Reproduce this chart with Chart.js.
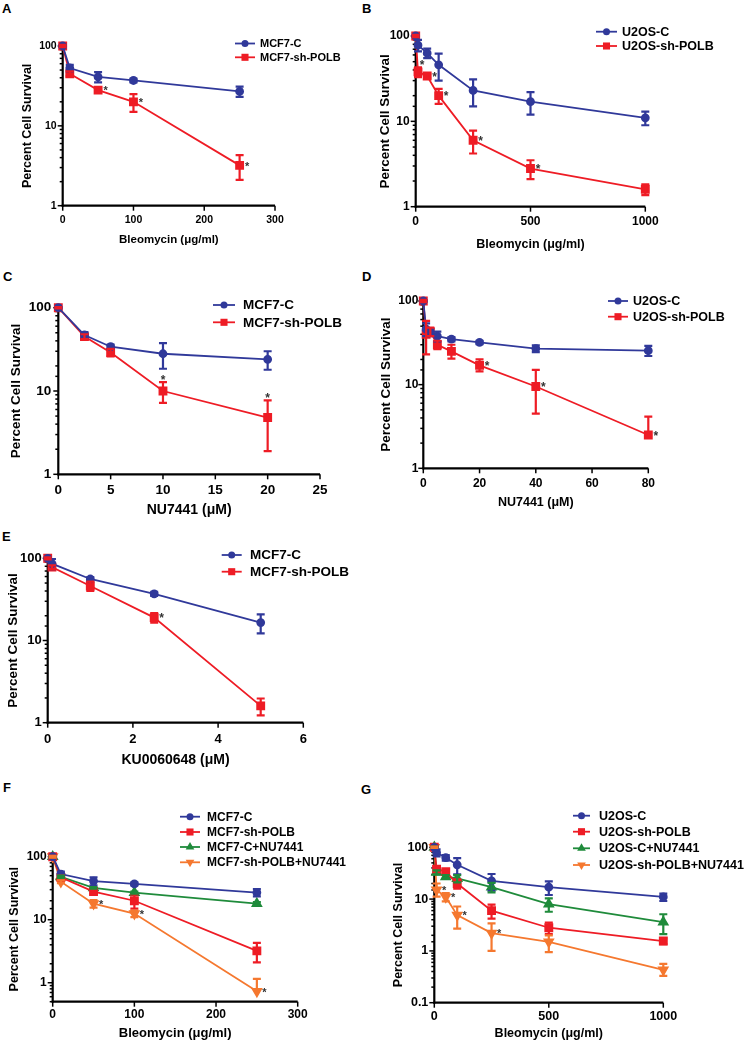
<!DOCTYPE html>
<html>
<head>
<meta charset="utf-8">
<script src="https://cdn.jsdelivr.net/npm/chart.js@4.4.0/dist/chart.umd.min.js"></script>
<style>
  body { margin: 0; background: #fff; width: 745px; height: 1042px; position: relative; overflow: hidden; }
  canvas { position: absolute; }
  .lbl { position: absolute; font: bold 13px "Liberation Sans", Arial, sans-serif; line-height: 13px; color: #000; }
</style>
</head>
<body>
<div class="lbl" style="left:2px;top:1.6px">A</div>
<div class="lbl" style="left:362px;top:1.6px">B</div>
<div class="lbl" style="left:3px;top:270px">C</div>
<div class="lbl" style="left:362px;top:270px">D</div>
<div class="lbl" style="left:2px;top:530px">E</div>
<div class="lbl" style="left:3px;top:781px">F</div>
<div class="lbl" style="left:361px;top:783px">G</div>
<script>
const BLUE = '#30399a', RED = '#ee1c25', GREEN = '#1f8b3b', ORANGE = '#f5782f';
const FONT = '"Liberation Sans", Arial, sans-serif';

// A: MCF7, bleomycin
const aDose = [0, 10, 50, 100, 250];
const aCtrl = [100, 53, 41, 37, 27];
const aCtrlSem = [3, 5, 6, 2, 4];
const aPolb = [100, 45, 28, 20, 3.2];
const aPolbSem = [3, 3, 1.5, 5, 1.1];
const aPolbStars = [0, 0, 'r', 'r', 'r'];

// B: U2OS, bleomycin
const bDose = [0, 10, 50, 100, 250, 500, 1000];
const bCtrl = [100, 78, 63, 46, 23, 17, 11];
const bCtrlSem = [3, 12, 8, 16, 8, 5, 2];
const bPolb = [100, 38, 34, 20, 6, 2.8, 1.6];
const bPolbSem = [3, 5, 2, 4, 1.8, 0.7, 0.23];
const bPolbStars = [0, 'u', 'r', 'r', 'r', 'r', 0];

// C: MCF7, NU7441
const cDose = [0, 2.5, 5, 10, 20];
const cCtrl = [100, 47, 34, 28, 24];
const cCtrlSem = [2, 4, 2, 9.5, 6];
const cPolb = [100, 45, 29, 10, 4.8];
const cPolbSem = [2, 3, 3, 2.8, 2.9];
const cPolbStars = [0, 0, 0, 'a', 'a'];

// D: U2OS, NU7441
const dDose = [0, 1, 2.5, 5, 10, 20, 40, 80];
const dCtrl = [100, 46, 42, 38, 35, 32, 27, 25.5];
const dCtrlSem = [2, 8, 4, 5, 2, 1.5, 2.5, 3.5];
const dPolb = [100, 40, 43, 30, 25, 17, 9.5, 2.5];
const dPolbUp = [3, 18, 5, 3.5, 5, 3, 5.5, 1.65];
const dPolbDown = [3, 17, 5, 3.5, 4.5, 2.6, 5, 0];
const dPolbStars = [0, 0, 0, 0, 0, 'r', 'r', 'r'];

// E: MCF7, KU0060648
const eDose = [0, 0.1, 1, 2.5, 5];
const eCtrl = [100, 86, 56, 37, 16.5];
const eCtrlSem = [3, 12, 3, 2, 4.3];
const ePolb = [100, 78, 46, 19, 1.6];
const ePolbSem = [3, 4, 6, 2.5, 0.37];
const ePolbStars = [0, 0, 0, 'r', 0];

// F: MCF7, bleomycin +/- NU7441
const fDose = [0, 10, 50, 100, 250];
const fCtrl = [100, 53, 41, 37, 27];
const fCtrlSem = [3, 5, 6, 2, 3.5];
const fPolb = [100, 47, 28, 20, 3.2];
const fPolbSem = [3, 3, 2, 5, 1.1];
const fCtrlNu = [100, 48, 32, 27, 18];
const fCtrlNuSem = [2, 2, 1, 1, 1];
const fPolbNu = [100, 40, 18, 12.5, 0.73];
const fPolbNuUp = [3, 2, 2.5, 1.5, 0.42];
const fPolbNuDown = [3, 2, 2.5, 1.5, 0];
const fPolbNuStars = [0, 0, 'r', 'r', 'r'];

// G: U2OS, bleomycin +/- NU7441
const gDose = [0, 10, 50, 100, 250, 500, 1000];
const gCtrl = [100, 79, 63, 46, 22.5, 17, 11];
const gCtrlSem = [3, 12, 8, 16, 8, 5, 1.8];
const gPolb = [100, 38, 34, 20, 6, 2.8, 1.55];
const gPolbSem = [3, 5, 2, 4, 1.8, 0.7, 0.2];
const gCtrlNu = [100, 33, 27, 25, 17, 8, 3.6];
const gCtrlNuSem = [3, 3, 2, 4, 3.5, 2.3, 1.5];
const gPolbNu = [100, 15, 11, 4.9, 2.2, 1.5, 0.43];
const gPolbNuUp = [3, 5, 2, 2.3, 1.2, 0.5, 0.13];
const gPolbNuDown = [3, 3.8, 2, 2.2, 1.2, 0.55, 0.1];
const gPolbNuStars = [0, 'r', 'r', 'r', 'r', 0, 0];

const CIRCLE = { color: BLUE, pointStyle: 'circle', radius: 3.5, rotation: 0 };
const SQUARE = { color: RED, pointStyle: 'rect', radius: 5, rotation: 0 };
const TRI_UP = { color: GREEN, pointStyle: 'triangle', radius: 5, rotation: 0 };
const TRI_DOWN = { color: ORANGE, pointStyle: 'triangle', radius: 5, rotation: 180 };

function series(label, dose, vals, up, down, st, stars) {
    return {
        label: label,
        data: dose.map((x, i) => ({ x: x, y: vals[i] })),
        borderColor: st.color,
        backgroundColor: st.color,
        borderWidth: 1.8,
        pointStyle: st.pointStyle,
        pointRadius: st.radius,
        pointHoverRadius: st.radius,
        pointRotation: st.rotation,
        tension: 0,
        clip: false,
        errUp: up,
        errDown: down || up,
        stars: stars || null,
        st: st
    };
}

function isDecade(v) {
    const l = Math.log10(v);
    return Math.abs(l - Math.round(l)) < 1e-6;
}

function drawMarker(ctx, st, x, y) {
    ctx.fillStyle = st.color;
    ctx.beginPath();
    if (st.pointStyle === 'circle') {
        ctx.arc(x, y, st.radius, 0, Math.PI * 2);
    } else if (st.pointStyle === 'rect') {
        const s = st.radius * Math.SQRT1_2;
        ctx.rect(x - s, y - s, 2 * s, 2 * s);
    } else {
        const r = st.radius, d = st.rotation ? -1 : 1;
        ctx.moveTo(x, y - d * r);
        ctx.lineTo(x + r * 0.866, y + d * r * 0.5);
        ctx.lineTo(x - r * 0.866, y + d * r * 0.5);
        ctx.closePath();
    }
    ctx.fill();
}

function decorFor(cfg) {
    const box = cfg.box;
    return {
        id: 'decor',
        beforeDatasetsDraw(chart) {
            const { ctx, chartArea: a } = chart;
            const x = chart.scales.x, y = chart.scales.y;
            const line = (x1, y1, x2, y2) => { ctx.beginPath(); ctx.moveTo(x1, y1); ctx.lineTo(x2, y2); ctx.stroke(); };
            ctx.save();
            ctx.strokeStyle = '#000';
            ctx.lineWidth = 1.5;
            x.ticks.forEach(t => {
                const px = x.getPixelForValue(t.value);
                line(px, a.bottom, px, a.bottom + 5);
            });
            y.ticks.forEach(t => {
                const py = y.getPixelForValue(t.value);
                const len = isDecade(t.value) ? 5 : 3;
                line(a.left - len, py, a.left, py);
            });
            ctx.lineWidth = 2.2;
            line(a.left, a.top - 1, a.left, a.bottom + 1);
            line(a.left - 1, a.bottom, a.right, a.bottom);
            ctx.restore();
        },
        afterDatasetsDraw(chart) {
            const { ctx } = chart;
            const y = chart.scales.y;
            ctx.save();
            // error bars and asterisks
            chart.data.datasets.forEach((ds, i) => {
                const meta = chart.getDatasetMeta(i);
                ctx.strokeStyle = ds.borderColor;
                ctx.lineWidth = 2.2;
                meta.data.forEach((pt, j) => {
                    const v = ds.data[j].y;
                    const hi = y.getPixelForValue(v + ds.errUp[j]);
                    const dn = ds.errDown[j];
                    const lo = dn > 0 && v - dn > 0 ? y.getPixelForValue(v - dn) : pt.y;
                    ctx.beginPath();
                    ctx.moveTo(pt.x, hi); ctx.lineTo(pt.x, lo);
                    ctx.moveTo(pt.x - 4, hi); ctx.lineTo(pt.x + 4, hi);
                    if (lo !== pt.y) { ctx.moveTo(pt.x - 4, lo); ctx.lineTo(pt.x + 4, lo); }
                    ctx.stroke();
                    const s = ds.stars && ds.stars[j];
                    if (s) {
                        const fs = cfg.starSize;
                        let cx = pt.x + 7.5, cy = pt.y - 2;
                        if (s === 'u') { cx = pt.x + 4; cy = pt.y - 10; }
                        if (s === 'a') { cx = pt.x; cy = hi - 5; }
                        ctx.fillStyle = '#333';
                        ctx.font = 'bold ' + fs + 'px ' + FONT;
                        ctx.textAlign = 'center';
                        ctx.textBaseline = 'alphabetic';
                        ctx.fillText('*', cx, cy + 0.57 * fs);
                    }
                });
            });
            // legend
            const lg = cfg.legend;
            ctx.font = 'bold ' + cfg.fonts.legend + 'px ' + FONT;
            ctx.textAlign = 'left';
            ctx.textBaseline = 'middle';
            chart.data.datasets.forEach((ds, i) => {
                const ly = lg.ys[i] - box.t;
                const x1 = lg.x1 - box.l, x2 = lg.x2 - box.l;
                ctx.strokeStyle = ds.borderColor;
                ctx.lineWidth = 1.8;
                ctx.beginPath(); ctx.moveTo(x1, ly); ctx.lineTo(x2, ly); ctx.stroke();
                drawMarker(ctx, ds.st, (x1 + x2) / 2, ly);
                ctx.fillStyle = '#000';
                ctx.fillText(ds.label, lg.tx - box.l, ly + 0.5);
            });
            ctx.restore();
        }
    };
}

function makePanel(cfg) {
    const box = cfg.box, plot = cfg.plot, f = cfg.fonts;
    const canvas = document.createElement('canvas');
    canvas.width = box.w;
    canvas.height = box.h;
    canvas.style.left = box.l + 'px';
    canvas.style.top = box.t + 'px';
    document.body.appendChild(canvas);

    const yW = plot.x0 - box.l;
    const xH = box.t + box.h - plot.y1;
    const yTitlePad = cfg.yTitleX - box.l - f.yTitle * 1.2 / 2;
    const xTitlePad = box.t + box.h - cfg.xTitleY - f.xTitle * 1.2 / 2;

    new Chart(canvas.getContext('2d'), {
        type: 'line',
        data: { datasets: cfg.datasets },
        options: {
            responsive: false,
            animation: false,
            devicePixelRatio: 1,
            events: [],
            layout: { padding: { left: 0, top: plot.y0 - box.t, right: box.l + box.w - plot.x1, bottom: 0 } },
            plugins: { legend: { display: false }, tooltip: { enabled: false } },
            scales: {
                x: {
                    type: 'linear', position: 'bottom', min: 0, max: cfg.xMax,
                    grid: { display: false, drawTicks: false }, border: { display: false },
                    ticks: {
                        stepSize: cfg.xStep, color: '#000', padding: cfg.xPad,
                        maxRotation: 0, autoSkip: false,
                        font: { family: FONT, size: f.tick, weight: 'bold' },
                        callback: v => String(v)
                    },
                    title: {
                        display: true, text: cfg.xTitle, color: '#000',
                        font: { family: FONT, size: f.xTitle, weight: 'bold' },
                        padding: { top: 0, bottom: xTitlePad }
                    },
                    afterFit: s => { s.height = xH; }
                },
                y: {
                    type: 'logarithmic', position: 'left', min: cfg.yMin, max: 100,
                    grid: { display: false, drawTicks: false }, border: { display: false },
                    ticks: {
                        color: '#000', padding: cfg.yPad, autoSkip: false,
                        font: { family: FONT, size: f.tick, weight: 'bold' },
                        callback: v => isDecade(v) ? String(+Number(v).toPrecision(2)) : ''
                    },
                    title: {
                        display: true, text: 'Percent Cell Survival', color: '#000',
                        font: { family: FONT, size: f.yTitle, weight: 'bold' },
                        padding: { top: yTitlePad, bottom: 0 }
                    },
                    afterFit: s => { s.width = yW; }
                }
            }
        },
        plugins: [decorFor(cfg)]
    });
}

makePanel({
    box: { l: 0, t: 20, w: 365, h: 240 },
    plot: { x0: 62.7, y0: 46, x1: 275, y1: 205.7 },
    yMin: 1, xMax: 300, xStep: 100, xPad: 8, yPad: 6,
    yTitleX: 27.7, xTitleY: 240, xTitle: 'Bleomycin (μg/ml)',
    fonts: { tick: 10.5, xTitle: 11.5, yTitle: 12.5, legend: 11 }, starSize: 11,
    legend: { x1: 235, x2: 255, tx: 260, ys: [43.5, 57.3] },
    datasets: [
        series('MCF7-C', aDose, aCtrl, aCtrlSem, null, CIRCLE),
        series('MCF7-sh-POLB', aDose, aPolb, aPolbSem, null, SQUARE, aPolbStars)
    ]
});

makePanel({
    box: { l: 370, t: 20, w: 375, h: 240 },
    plot: { x0: 415.7, y0: 36, x1: 645.3, y1: 206.7 },
    yMin: 1, xMax: 1000, xStep: 500, xPad: 7.8, yPad: 6,
    yTitleX: 385.7, xTitleY: 245, xTitle: 'Bleomycin (μg/ml)',
    fonts: { tick: 12, xTitle: 12.5, yTitle: 13.5, legend: 12.5 }, starSize: 12,
    legend: { x1: 596, x2: 617, tx: 622, ys: [31.7, 46] },
    datasets: [
        series('U2OS-C', bDose, bCtrl, bCtrlSem, null, CIRCLE),
        series('U2OS-sh-POLB', bDose, bPolb, bPolbSem, null, SQUARE, bPolbStars)
    ]
});

makePanel({
    box: { l: 0, t: 285, w: 365, h: 240 },
    plot: { x0: 58.3, y0: 307.7, x1: 320, y1: 474.3 },
    yMin: 1, xMax: 25, xStep: 5, xPad: 7.6, yPad: 7,
    yTitleX: 16.7, xTitleY: 510, xTitle: 'NU7441 (μM)',
    fonts: { tick: 13.5, xTitle: 14, yTitle: 13.5, legend: 13.5 }, starSize: 12,
    legend: { x1: 213, x2: 235, tx: 243, ys: [305, 322.3] },
    datasets: [
        series('MCF7-C', cDose, cCtrl, cCtrlSem, null, CIRCLE),
        series('MCF7-sh-POLB', cDose, cPolb, cPolbSem, null, SQUARE, cPolbStars)
    ]
});

makePanel({
    box: { l: 370, t: 285, w: 375, h: 235 },
    plot: { x0: 423.3, y0: 301, x1: 648.3, y1: 468.3 },
    yMin: 1, xMax: 80, xStep: 20, xPad: 8.5, yPad: 5,
    yTitleX: 386, xTitleY: 502.3, xTitle: 'NU7441 (μM)',
    fonts: { tick: 12, xTitle: 12.5, yTitle: 13.5, legend: 12.5 }, starSize: 12,
    legend: { x1: 608, x2: 628, tx: 633, ys: [301, 316.7] },
    datasets: [
        series('U2OS-C', dDose, dCtrl, dCtrlSem, null, CIRCLE),
        series('U2OS-sh-POLB', dDose, dPolb, dPolbUp, dPolbDown, SQUARE, dPolbStars)
    ]
});

makePanel({
    box: { l: 0, t: 535, w: 365, h: 240 },
    plot: { x0: 47.7, y0: 558.3, x1: 303.3, y1: 722.7 },
    yMin: 1, xMax: 6, xStep: 2, xPad: 8.8, yPad: 6,
    yTitleX: 13.3, xTitleY: 760, xTitle: 'KU0060648 (μM)',
    fonts: { tick: 13, xTitle: 14, yTitle: 13.5, legend: 13.5 }, starSize: 12,
    legend: { x1: 221.7, x2: 241.7, tx: 250, ys: [555, 571.7] },
    datasets: [
        series('MCF7-C', eDose, eCtrl, eCtrlSem, null, CIRCLE),
        series('MCF7-sh-POLB', eDose, ePolb, ePolbSem, null, SQUARE, ePolbStars)
    ]
});

makePanel({
    box: { l: 0, t: 800, w: 365, h: 242 },
    plot: { x0: 52.7, y0: 856.7, x1: 297.7, y1: 1001.7 },
    yMin: 0.5, xMax: 300, xStep: 100, xPad: 5.4, yPad: 6,
    yTitleX: 15, xTitleY: 1033.3, xTitle: 'Bleomycin (μg/ml)',
    fonts: { tick: 12, xTitle: 13, yTitle: 12.5, legend: 12 }, starSize: 11,
    legend: { x1: 180, x2: 200, tx: 207, ys: [816.7, 832, 847, 862.3] },
    datasets: [
        series('MCF7-C', fDose, fCtrl, fCtrlSem, null, CIRCLE),
        series('MCF7-sh-POLB', fDose, fPolb, fPolbSem, null, SQUARE),
        series('MCF7-C+NU7441', fDose, fCtrlNu, fCtrlNuSem, null, TRI_UP),
        series('MCF7-sh-POLB+NU7441', fDose, fPolbNu, fPolbNuUp, fPolbNuDown, TRI_DOWN, fPolbNuStars)
    ]
});

makePanel({
    box: { l: 370, t: 800, w: 375, h: 242 },
    plot: { x0: 434.3, y0: 847.3, x1: 663.3, y1: 1002.7 },
    yMin: 0.1, xMax: 1000, xStep: 500, xPad: 6.5, yPad: 6,
    yTitleX: 398.3, xTitleY: 1033.3, xTitle: 'Bleomycin (μg/ml)',
    fonts: { tick: 12.5, xTitle: 12.5, yTitle: 12.5, legend: 12.5 }, starSize: 11,
    legend: { x1: 573, x2: 590, tx: 599, ys: [815.7, 831.7, 848.3, 865] },
    datasets: [
        series('U2OS-C', gDose, gCtrl, gCtrlSem, null, CIRCLE),
        series('U2OS-sh-POLB', gDose, gPolb, gPolbSem, null, SQUARE),
        series('U2OS-C+NU7441', gDose, gCtrlNu, gCtrlNuSem, null, TRI_UP),
        series('U2OS-sh-POLB+NU7441', gDose, gPolbNu, gPolbNuUp, gPolbNuDown, TRI_DOWN, gPolbNuStars)
    ]
});
</script>
</body>
</html>
